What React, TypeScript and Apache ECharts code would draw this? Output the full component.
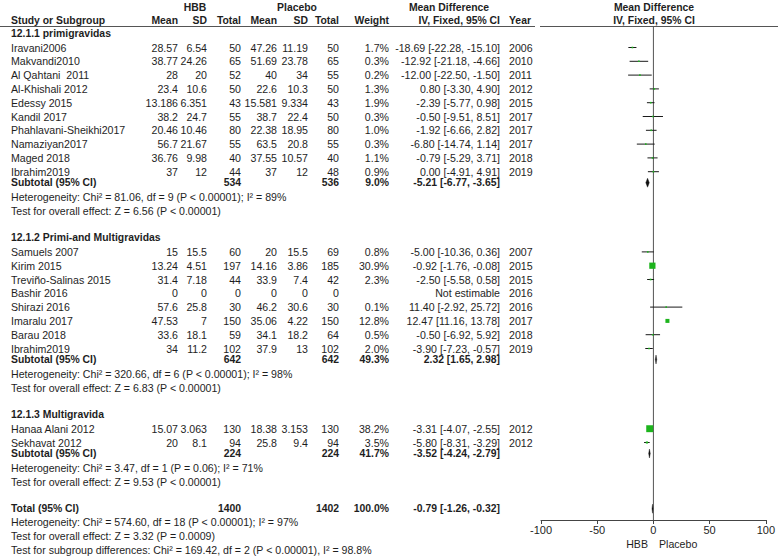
import React, { useEffect, useRef } from "react";
import * as echarts from "echarts";

// ---------- DATA ----------
const groupTitles = ["12.1.1 primigravidas", "12.1.2 Primi-and Multigravidas", "12.1.3 Multigravida"];

const g1Names = ["Iravani2006", "Makvandi2010", "Al Qahtani  2011", "Al-Khishali 2012", "Edessy 2015", "Kandil 2017", "Phahlavani-Sheikhi2017", "Namaziyan2017", "Maged 2018", "Ibrahim2019"];
const g1HbbMean = ["28.57", "38.77", "28", "23.4", "13.186", "38.2", "20.46", "56.7", "36.76", "37"];
const g1HbbSD = ["6.54", "24.26", "20", "10.6", "6.351", "24.7", "10.46", "21.67", "9.98", "12"];
const g1HbbN = ["50", "65", "52", "50", "43", "55", "80", "55", "40", "44"];
const g1PlMean = ["47.26", "51.69", "40", "22.6", "15.581", "38.7", "22.38", "63.5", "37.55", "37"];
const g1PlSD = ["11.19", "23.78", "34", "10.3", "9.334", "22.4", "18.95", "20.8", "10.57", "12"];
const g1PlN = ["50", "65", "55", "50", "43", "50", "80", "55", "40", "48"];
const g1Weight = [1.7, 0.3, 0.2, 1.3, 1.9, 0.3, 1.0, 0.3, 1.1, 0.9];
const g1MD = [-18.69, -12.92, -12.0, 0.8, -2.39, -0.5, -1.92, -6.8, -0.79, 0.0];
const g1Lo = [-22.28, -21.18, -22.5, -3.3, -5.77, -9.51, -6.66, -14.74, -5.29, -4.91];
const g1Hi = [-15.1, -4.66, -1.5, 4.9, 0.98, 8.51, 2.82, 1.14, 3.71, 4.91];
const g1Year = ["2006", "2010", "2011", "2012", "2015", "2017", "2017", "2017", "2018", "2019"];

const g2Names = ["Samuels 2007", "Kirim 2015", "Treviño-Salinas 2015", "Bashir 2016", "Shirazi 2016", "Imaralu 2017", "Barau 2018", "Ibrahim2019"];
const g2HbbMean = ["15", "13.24", "31.4", "0", "57.6", "47.53", "33.6", "34"];
const g2HbbSD = ["15.5", "4.51", "7.18", "0", "25.8", "7", "18.1", "11.2"];
const g2HbbN = ["60", "197", "44", "0", "30", "150", "59", "102"];
const g2PlMean = ["20", "14.16", "33.9", "0", "46.2", "35.06", "34.1", "37.9"];
const g2PlSD = ["15.5", "3.86", "7.4", "0", "30.6", "4.22", "18.2", "13"];
const g2PlN = ["69", "185", "42", "0", "30", "150", "64", "102"];
const g2Weight = [0.8, 30.9, 2.3, null, 0.1, 12.8, 0.5, 2.0];
const g2MD = [-5.0, -0.92, -2.5, null, 11.4, 12.47, -0.5, -3.9];
const g2Lo = [-10.36, -1.76, -5.58, null, -2.92, 11.16, -6.92, -7.23];
const g2Hi = [0.36, -0.08, 0.58, null, 25.72, 13.78, 5.92, -0.57];
const g2Year = ["2007", "2015", "2015", "2016", "2016", "2017", "2018", "2019"];

const g3Names = ["Hanaa Alani 2012", "Sekhavat 2012"];
const g3HbbMean = ["15.07", "20"];
const g3HbbSD = ["3.063", "8.1"];
const g3HbbN = ["130", "94"];
const g3PlMean = ["18.38", "25.8"];
const g3PlSD = ["3.153", "9.4"];
const g3PlN = ["130", "94"];
const g3Weight = [38.2, 3.5];
const g3MD = [-3.31, -5.8];
const g3Lo = [-4.07, -8.31];
const g3Hi = [-2.55, -3.29];
const g3Year = ["2012", "2012"];

const subHbbN = ["534", "642", "224"];
const subPlN = ["536", "642", "224"];
const subWeight = [9.0, 49.3, 41.7];
const subMD = [-5.21, 2.32, -3.52];
const subLo = [-6.77, 1.65, -4.24];
const subHi = [-3.65, 2.98, -2.79];
const subHet = [
  "Heterogeneity: Chi² = 81.06, df = 9 (P < 0.00001); I² = 89%",
  "Heterogeneity: Chi² = 320.66, df = 6 (P < 0.00001); I² = 98%",
  "Heterogeneity: Chi² = 3.47, df = 1 (P = 0.06); I² = 71%",
];
const subTest = [
  "Test for overall effect: Z = 6.56 (P < 0.00001)",
  "Test for overall effect: Z = 6.83 (P < 0.00001)",
  "Test for overall effect: Z = 9.53 (P < 0.00001)",
];

const totalHbbN = "1400";
const totalPlN = "1402";
const totalWeight = 100.0;
const totalMD = -0.79;
const totalLo = -1.26;
const totalHi = -0.32;
const totalNotes = [
  "Heterogeneity: Chi² = 574.60, df = 18 (P < 0.00001); I² = 97%",
  "Test for overall effect: Z = 3.32 (P = 0.0009)",
  "Test for subgroup differences: Chi² = 169.42, df = 2 (P < 0.00001), I² = 98.8%",
];

const xTicks = [-100, 50];
const favoursLeft = "HBB";
const favoursRight = "Placebo";

const groups = [
  { names: g1Names, hm: g1HbbMean, hs: g1HbbSD, hn: g1HbbN, pm: g1PlMean, ps: g1PlSD, pn: g1PlN, w: g1Weight, md: g1MD, lo: g1Lo, hi: g1Hi, yr: g1Year },
  { names: g2Names, hm: g2HbbMean, hs: g2HbbSD, hn: g2HbbN, pm: g2PlMean, ps: g2PlSD, pn: g2PlN, w: g2Weight, md: g2MD, lo: g2Lo, hi: g2Hi, yr: g2Year },
  { names: g3Names, hm: g3HbbMean, hs: g3HbbSD, hn: g3HbbN, pm: g3PlMean, ps: g3PlSD, pn: g3PlN, w: g3Weight, md: g3MD, lo: g3Lo, hi: g3Hi, yr: g3Year },
];

// ---------- LAYOUT ----------
const W = 778;
const H = 557;
const FONT = '"Liberation Sans", Arial, sans-serif';
const FS = 10.6;
const FSB = 10.4;
const TXT = "#1e1e1e";
const GREEN = "#1db41d";
const COL = { name: 11, hm: 178, hs: 207, hn: 241, pm: 277, ps: 308, pn: 339, w: 389, ci: 500, yr: 509 };
const PLOT_L = 541;
const PLOT_R = 767;
const PLOT_T = 26;
const AXIS_Y = 520;

const fmtCI = (m: number, l: number, h: number) => `${m.toFixed(2)} [${l.toFixed(2)}, ${h.toFixed(2)}]`;

export default function App() {
  const ref = useRef<HTMLDivElement>(null);

  useEffect(() => {
    document.body.style.margin = "0";
    if (!ref.current) return;
    const chart = echarts.init(ref.current, null, { renderer: "svg" });

    const texts: any[] = [];
    const t = (text: string, x: number, y: number, align: string = "left", bold = false) => {
      texts.push({
        type: "text",
        x,
        y,
        silent: true,
        style: {
          text,
          fill: TXT,
          font: `${bold ? "bold " : ""}${bold ? FSB : FS}px ${FONT}`,
          align,
          verticalAlign: "middle",
        },
      });
    };

    // headers
    t("HBB", 195, 7, "center", true);
    t("Placebo", 297, 7, "center", true);
    t("Mean Difference", 449, 7, "center", true);
    t("Mean Difference", 654, 7, "center", true);
    const hy = 20;
    t("Study or Subgroup", COL.name, hy, "left", true);
    t("Mean", COL.hm, hy, "right", true);
    t("SD", COL.hs, hy, "right", true);
    t("Total", COL.hn, hy, "right", true);
    t("Mean", COL.pm, hy, "right", true);
    t("SD", COL.ps, hy, "right", true);
    t("Total", COL.pn, hy, "right", true);
    t("Weight", COL.w, hy, "right", true);
    t("IV, Fixed, 95% CI", COL.ci, hy, "right", true);
    t("Year", COL.yr, hy, "left", true);
    t("IV, Fixed, 95% CI", 654, hy, "center", true);

    const marks: any[] = [];
    const P = 13.8;
    let y = 33.5;
    groups.forEach((g, gi) => {
      t(groupTitles[gi], COL.name, y, "left", true);
      y += 14;
      g.names.forEach((n, i) => {
        t(n, COL.name, y);
        t(g.hm[i], COL.hm, y, "right");
        t(g.hs[i], COL.hs, y, "right");
        t(g.hn[i], COL.hn, y, "right");
        t(g.pm[i], COL.pm, y, "right");
        t(g.ps[i], COL.ps, y, "right");
        t(g.pn[i], COL.pn, y, "right");
        const w = g.w[i];
        if (w !== null && g.md[i] !== null) {
          t(`${(w as number).toFixed(1)}%`, COL.w, y, "right");
          t(fmtCI(g.md[i] as number, g.lo[i] as number, g.hi[i] as number), COL.ci, y, "right");
          marks.push([y, g.md[i], g.lo[i], g.hi[i], w, 0]);
        } else {
          t("Not estimable", COL.ci, y, "right");
        }
        t(g.yr[i], COL.yr, y, "left");
        y += P;
      });
      y -= P;
      y += 11;
      t("Subtotal (95% CI)", COL.name, y, "left", true);
      t(subHbbN[gi], COL.hn, y, "right", true);
      t(subPlN[gi], COL.pn, y, "right", true);
      t(`${subWeight[gi].toFixed(1)}%`, COL.w, y, "right", true);
      t(fmtCI(subMD[gi], subLo[gi], subHi[gi]), COL.ci, y, "right", true);
      marks.push([y, subMD[gi], subLo[gi], subHi[gi], subWeight[gi], 1]);
      y += 14.2;
      t(subHet[gi], COL.name, y);
      y += 14;
      t(subTest[gi], COL.name, y);
      if (gi < groups.length - 1) y += 27;
    });
    y += 27;
    t("Total (95% CI)", COL.name, y, "left", true);
    t(totalHbbN, COL.hn, y, "right", true);
    t(totalPlN, COL.pn, y, "right", true);
    t(`${totalWeight.toFixed(1)}%`, COL.w, y, "right", true);
    t(fmtCI(totalMD, totalLo, totalHi), COL.ci, y, "right", true);
    marks.push([y, totalMD, totalLo, totalHi, totalWeight, 1]);
    totalNotes.forEach((s) => {
      y += 13.7;
      t(s, COL.name, y);
    });

    t(favoursLeft, 648, 544, "right");
    t(favoursRight, 659, 544, "left");

    const lines = [
      { type: "line", silent: true, shape: { x1: 0, y1: 26.5, x2: 535, y2: 26.5 }, style: { stroke: "#555", lineWidth: 1 } },
      { type: "line", silent: true, shape: { x1: 540, y1: 26.5, x2: W, y2: 26.5 }, style: { stroke: "#555", lineWidth: 1 } },
    ];

    const option: any = {
      animation: false,
      backgroundColor: "#ffffff",
      grid: { left: PLOT_L, right: W - PLOT_R, top: PLOT_T, bottom: H - AXIS_Y, containLabel: false },
      xAxis: {
        type: "value",
        min: xTicks[0],
        max: -xTicks[0],
        interval: xTicks[1],
        axisLine: { show: true, onZero: false, lineStyle: { color: "#444", width: 1 } },
        axisTick: { show: true, length: 4, lineStyle: { color: "#444" } },
        axisLabel: { color: TXT, fontSize: 11, fontFamily: FONT, margin: 4 },
        splitLine: { show: false },
      },
      yAxis: { type: "value", min: PLOT_T, max: AXIS_Y, inverse: true, show: false },
      series: [
        {
          type: "line",
          data: [[0, PLOT_T], [0, AXIS_Y]],
          symbol: "none",
          silent: true,
          lineStyle: { color: "#555", width: 1 },
          z: 1,
        },
        {
          type: "custom",
          clip: false,
          z: 3,
          silent: true,
          encode: { x: [1, 2, 3], y: 0 },
          data: marks,
          renderItem: (_p: any, api: any) => {
            const yy = api.value(0);
            const md = api.value(1);
            const lo = api.value(2);
            const hi = api.value(3);
            const w = api.value(4);
            const kind = api.value(5);
            const a = api.coord([lo, yy]);
            const b = api.coord([hi, yy]);
            const m = api.coord([md, yy]);
            if (kind === 0) {
              const s = Math.max(1.6, 1.12 * Math.sqrt(w));
              return {
                type: "group",
                children: [
                  { type: "line", shape: { x1: a[0], y1: a[1], x2: b[0], y2: b[1] }, style: { stroke: "#1a1a1a", lineWidth: 1 } },
                  { type: "rect", shape: { x: m[0] - s / 2, y: m[1] - s / 2, width: s, height: s }, style: { fill: GREEN } },
                ],
              };
            }
            const h = 4.5;
            return {
              type: "polygon",
              shape: { points: [[a[0], m[1]], [m[0], m[1] - h], [b[0], m[1]], [m[0], m[1] + h]] },
              style: { fill: "#111", stroke: "#111", lineWidth: 0.4 },
            };
          },
        },
      ],
      graphic: [...lines, ...texts],
    };
    chart.setOption(option);
    return () => chart.dispose();
  }, []);

  return <div ref={ref} style={{ width: W, height: H }} />;
}
